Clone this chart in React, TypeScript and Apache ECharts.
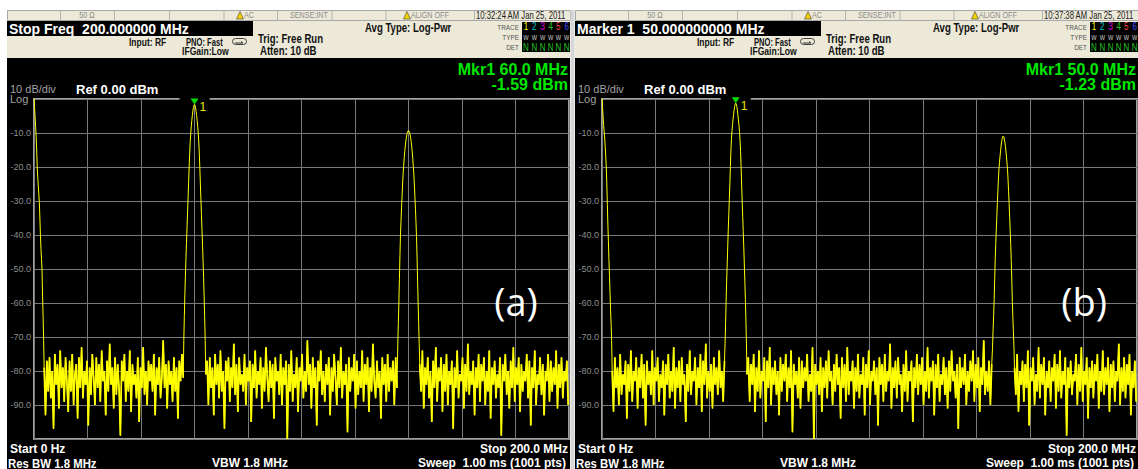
import React, { useEffect, useRef } from "react";
import * as echarts from "echarts";

// ---------------- data ----------------
const SWEEP_STEP = 0.2; // MHz between trace points (1001 pts / 200 MHz)
const NOISE_STEP = 0.5; // MHz between read noise-floor samples

const freqTicks = [0, 20, 40, 60, 80, 100, 120, 140, 160, 180, 200];
const levelTicks = [0, -10, -20, -30, -40, -50, -60, -70, -80, -90, -100];

const panelTitles = ["Stop Freq  200.000000 MHz", "Marker 1  50.000000000 MHz"];
const panelTimes = ["10:32:24 AM Jan 25, 2011", "10:37:38 AM Jan 25, 2011"];
const panelLetters = ["(a)", "(b)"];
const markerFreqs = [60.0, 50.0];
const markerLevels = [-1.59, -1.23];

// ---- panel (a) ----
const loA = [1, -2.5, -5, -8, -11, -15, -20, -23, -25.5, -28, -30.5, -35, -40, -44, -47, -50, -58, -64, -71];
const noiseA1Start = 3.8;
const noiseA1 = [
  -79, -93, -77, -86, -76, -88, -80, -97, -75, -84,
  -78, -91, -74, -85, -79, -89, -76, -83, -92, -77,
  -86, -75, -90, -81, -78, -94, -76, -85, -73, -88,
  -80, -84, -77, -96, -79, -87, -75, -82, -90, -76,
  -85, -78, -89, -74, -83, -80, -93, -77, -86, -72,
  -84, -79, -91, -76, -87, -78, -85, -99, -77, -83,
  -75, -89, -80, -86, -74, -92, -78, -84, -81, -88,
  -76, -95, -79, -85, -73, -87, -80, -90, -77, -83,
  -78, -86, -75, -93, -79, -84, -76, -88, -82, -71,
  -85, -78, -91, -77, -84, -80, -89, -76, -86, -79,
  -94, -77, -83, -75, -82,
];
const peakA1Start = 56.0;
const peakA1 = [
  -71, -64, -57.5, -52, -47, -42.5, -38, -33.5, -29, -24.5,
  -20, -16, -12.5, -10, -8, -6.3, -4.8, -3.5, -2.5, -1.9,
  -1.59,
  -1.9, -2.6, -3.6, -4.9, -6.4, -8.1, -10.1, -12.6, -16.2, -20.5,
  -25, -29.5, -34, -38.5, -43, -47.5, -52.5, -58, -64, -71,
];
const noiseA2Start = 64.2;
const noiseA2 = [
  -81, -77, -90, -76, -85, -79, -93, -75, -84, -78,
  -88, -74, -86, -80, -97, -77, -83, -76, -89, -79,
  -85, -72, -87, -78, -92, -76, -84, -81, -86, -75,
  -90, -79, -83, -77, -95, -78, -85, -74, -88, -80,
  -84, -76, -91, -79, -86, -73, -82, -89, -77, -85,
  -78, -94, -76, -83, -80, -87, -75, -90, -79, -84,
  -77, -100, -78, -86, -74, -89, -81, -85, -76, -92,
  -79, -83, -75, -88, -80, -86, -71, -84, -78, -91,
  -76, -85, -79, -96, -77, -83, -74, -87, -80, -89,
  -78, -84, -76, -93, -79, -86, -75, -82, -90, -77,
  -85, -73, -88, -80, -84, -78, -98, -76, -86, -79,
  -83, -75, -91, -77, -87, -80, -85, -74, -89, -78,
  -84, -76, -92, -79, -86, -72, -83, -88, -77, -85,
  -80, -94, -76, -84, -78, -89, -75, -86, -79, -83,
  -77, -90, -76, -85,
];
const peakA2Start = 136.0;
const peakA2 = [
  -72, -66, -60, -53, -46, -40, -36, -32, -28.5, -25,
  -22, -19.5, -17.3, -15.5, -13.8, -12.4, -11.3, -10.4, -9.8, -9.4,
  -9.3,
  -9.4, -9.8, -10.5, -11.4, -12.5, -13.9, -15.6, -17.5, -19.8, -22.3,
  -25.3, -28.8, -32.3, -36.3, -40.5, -46.5, -53.5, -60, -66, -72,
];
const noiseA3Start = 144.2;
const noiseA3 = [
  -78, -86, -74, -91, -79, -84, -76, -88, -80, -95,
  -77, -85, -73, -89, -79, -83, -76, -92, -78, -86,
  -75, -90, -80, -84, -77, -97, -79, -85, -74, -88,
  -81, -83, -76, -91, -78, -86, -72, -87, -80, -84,
  -77, -93, -79, -85, -75, -89, -78, -83, -76, -90,
  -80, -86, -74, -94, -79, -84, -77, -88, -81, -85,
  -76, -99, -78, -83, -75, -87, -80, -91, -77, -85,
  -73, -89, -79, -84, -76, -92, -78, -86, -80, -83,
  -75, -88, -77, -96, -79, -85, -74, -90, -81, -84,
  -76, -87, -78, -93, -80, -83, -75, -89, -77, -86,
  -79, -84, -74, -91, -78, -85, -76, -88, -80, -83,
  -77, -90,
];

// ---- panel (b) ----
const loB = [1, -2.5, -5, -7.5, -9.5, -11.5, -14, -17, -20, -25, -31, -37, -42, -47.5, -52, -57, -62, -66, -71];
const noiseB1Start = 3.8;
const noiseB1 = [
  -80, -92, -76, -85, -79, -90, -75, -87, -81, -84,
  -77, -94, -78, -86, -74, -89, -80, -83, -76, -91,
  -79, -85, -75, -88, -78, -96, -77, -84, -80, -87,
  -74, -90, -79, -83, -76, -89, -81, -85, -77, -93,
  -78, -84, -75, -88, -80, -86, -73, -91, -79, -85,
  -77, -89, -76, -84, -81, -95, -78, -86, -74, -87,
  -80, -83, -76, -90, -79, -85, -75, -92, -77, -84,
  -72, -88, -80, -86, -78, -91, -76, -84, -79, -87,
  -74, -85, -80, -89, -77,
];
const peakB1Start = 46.0;
const peakB1 = [
  -72, -66, -59.5, -53.5, -48.5, -43.5, -38.5, -34, -29.5, -24.8,
  -19.8, -15.2, -11.6, -9.3, -7.5, -5.9, -4.5, -3.2, -2.2, -1.5,
  -1.23,
  -1.5, -2.2, -3.3, -4.6, -6.1, -7.7, -9.5, -12, -15.4, -20,
  -25, -30, -34.5, -39, -43.5, -48.5, -53.5, -59, -65, -72,
];
const noiseB2Start = 54.2;
const noiseB2 = [
  -81, -76, -89, -78, -84, -75, -92, -79, -86, -74,
  -88, -80, -83, -76, -95, -77, -85, -73, -90, -79,
  -84, -77, -87, -80, -93, -76, -86, -78, -83, -75,
  -89, -79, -85, -74, -98, -78, -84, -80, -88, -76,
  -91, -77, -85, -79, -83, -75, -89, -81, -86, -73,
  -100, -78, -84, -80, -87, -76, -92, -79, -85, -77,
  -88, -74, -83, -80, -90, -78, -86, -75, -84, -79,
  -94, -76, -85, -78, -89, -73, -87, -80, -83, -77,
  -91, -79, -86, -75, -88, -81, -84, -76, -93, -78,
  -85, -74, -90, -80, -83, -77, -87, -79, -96, -76,
  -84, -78, -89, -75, -86, -80, -83, -72, -91, -79,
  -85, -77, -88, -76, -84, -81, -92, -78, -86, -74,
  -89, -80, -83, -77, -95, -79, -85, -75, -87, -78,
  -84, -76, -90, -80, -86, -73, -88, -79, -83, -77,
  -93, -78, -85, -75, -89, -81, -84, -76, -87, -79,
  -91, -77, -86, -74, -83, -80, -88, -78, -97, -76,
  -85, -79, -84, -75, -90, -80, -86, -77, -83, -74,
  -89, -78, -85, -76, -92, -79, -84, -71, -87, -80,
  -86, -77, -90, -78,
];
const peakB2Start = 146.0;
const peakB2 = [
  -73, -68, -64, -59, -53, -47, -42.5, -38.5, -34.5, -30.5,
  -27, -23.5, -20.5, -18.6, -16.8, -15.2, -13.8, -12.6, -11.7, -11.1,
  -10.9,
  -11.1, -11.8, -12.7, -13.9, -15.3, -16.9, -18.8, -20.8, -23.8, -27.3,
  -30.8, -34.8, -38.8, -42.8, -47.5, -53.5, -59.5, -64.5, -68.5, -73,
];
const noiseB3Start = 154.2;
const noiseB3 = [
  -79, -87, -75, -92, -80, -84, -77, -89, -78, -85,
  -74, -96, -79, -83, -76, -90, -81, -86, -73, -88,
  -78, -84, -76, -93, -80, -85, -77, -89, -79, -83,
  -75, -91, -78, -86, -74, -88, -80, -84, -76, -99,
  -79, -85, -77, -87, -81, -83, -75, -90, -78, -86,
  -73, -89, -80, -84, -76, -94, -79, -85, -77, -88,
  -78, -83, -75, -91, -80, -86, -74, -87, -79, -84,
  -76, -92, -78, -85, -77, -89, -80, -83, -72, -90,
  -79, -86, -76, -88, -78, -84, -75, -93, -80, -85,
  -77, -89,
];

// sweep points -> [frequency MHz, level dBm]
const seg = (start: number, step: number, vals: number[]) =>
  vals.map((v, i) => [Math.round((start + i * step) * 100) / 100, v]);
const GAP = [null, null];

const noiseSegsA = [
  seg(noiseA1Start, NOISE_STEP, noiseA1),
  seg(noiseA2Start, NOISE_STEP, noiseA2),
  seg(noiseA3Start, NOISE_STEP, noiseA3),
];
const noiseSegsB = [
  seg(noiseB1Start, NOISE_STEP, noiseB1),
  seg(noiseB2Start, NOISE_STEP, noiseB2),
  seg(noiseB3Start, NOISE_STEP, noiseB3),
];
const traceA = [
  ...seg(0, SWEEP_STEP, loA),
  ...noiseSegsA[0],
  ...seg(peakA1Start, SWEEP_STEP, peakA1),
  ...noiseSegsA[1],
  ...seg(peakA2Start, SWEEP_STEP, peakA2),
  ...noiseSegsA[2],
];
const traceB = [
  ...seg(0, SWEEP_STEP, loB),
  ...noiseSegsB[0],
  ...seg(peakB1Start, SWEEP_STEP, peakB1),
  ...noiseSegsB[1],
  ...seg(peakB2Start, SWEEP_STEP, peakB2),
  ...noiseSegsB[2],
];
const joinSegs = (segs: any[][]) => segs.reduce((acc: any[], s, i) => (i ? [...acc, GAP, ...s] : [...s]), []);
const traces = [traceA, traceB];
const noiseTraces = [joinSegs(noiseSegsA), joinSegs(noiseSegsB)];

// ---------------- styling helpers ----------------
const F = "'Liberation Sans', Arial, sans-serif";
const PANEL_DX = 568;

type TOpt = { align?: string; weight?: string; family?: string; z?: number; sx?: number };
const T = (x: number, y: number, text: string, size: number, color: string, o: TOpt = {}) => ({
  type: "text",
  x,
  y,
  scaleX: o.sx ?? 1,
  z: o.z ?? 50,
  silent: true,
  style: {
    text,
    fill: color,
    fontSize: size,
    fontFamily: o.family || F,
    fontWeight: o.weight || "normal",
    align: o.align || "left",
    textAlign: o.align || "left",
    verticalAlign: "middle",
    textVerticalAlign: "middle",
  },
});
const R = (x: number, y: number, w: number, h: number, fill: string, z = -5, stroke?: string, r = 0) => ({
  type: "rect",
  z,
  silent: true,
  shape: { x, y, width: w, height: h, r },
  style: { fill, stroke: stroke || "none", lineWidth: 1 },
});
const L = (x1: number, y1: number, x2: number, y2: number, stroke: string, lw = 1, z = 5) => ({
  type: "line",
  z,
  silent: true,
  shape: { x1, y1, x2, y2 },
  style: { stroke, lineWidth: lw },
});
const warn = (x: number) => ({
  type: "polygon",
  z: 10,
  silent: true,
  shape: { points: [[x, 19], [x + 3.5, 11.5], [x + 7, 19]] },
  style: { fill: "#f2d200", stroke: "#404040", lineWidth: 0.6 },
});

const traceDigitColors = ["#ffff00", "#00c8d0", "#e000e0", "#20c020", "#ff4040", "#5050ff"];
const traceDigitX = [526, 534.3, 542.7, 550.7, 558.3, 566.7];
const NAR = 0.8;

function panelGraphics(p: number) {
  const ox = p * PANEL_DX;
  const els: any[] = [];
  // header background
  els.push(R(ox + 7, 10, 563, 48, "#ece9d8", -5));
  // status bar
  els.push(R(ox + 7.5, 10.5, 563, 10, "#ece9d8", -4, "#a8a8a8"));
  [60.5, 114.5, 169.5, 224, 277.5, 332, 386, 474.5].forEach((dx) =>
    els.push(L(ox + dx, 10.5, ox + dx, 20.5, "#b4b4b4", 1, 6))
  );
  els.push(T(ox + 87, 15.5, "50 Ω", 9, "#8c8c8c", { align: "center", sx: NAR }));
  els.push(warn(ox + 236.5));
  els.push(T(ox + 244, 15.5, "AC", 9, "#8c8c8c", { sx: NAR }));
  els.push(T(ox + 290, 15.5, "SENSE:INT", 9, "#8c8c8c", { sx: NAR }));
  els.push(warn(ox + 403.5));
  els.push(T(ox + 411, 15.5, "ALIGN OFF", 9, "#8c8c8c", { sx: NAR }));
  els.push(T(ox + 476, 15.5, panelTimes[p], 10, "#222", { sx: 0.77 }));
  // title box
  els.push(R(ox + 7, 21, 246, 15, "#000", -3));
  els.push(T(ox + 9, 28.8, panelTitles[p], 14, "#fff", { weight: "bold" }));
  // settings
  els.push(T(ox + 129, 42.5, "Input: RF", 10, "#111", { weight: "bold", sx: 0.85 }));
  els.push(T(ox + 186, 42.5, "PNO: Fast", 10, "#111", { weight: "bold", sx: 0.76 }));
  els.push(T(ox + 182, 52, "IFGain:Low", 10, "#111", { weight: "bold", sx: 0.86 }));
  els.push(R(ox + 232.5, 38.5, 14, 6, "none", 6, "#404040", 3));
  els.push({
    type: "polyline",
    z: 7,
    silent: true,
    shape: { points: [[ox + 235, 43], [ox + 243, 43], [ox + 241, 41.5]] },
    style: { stroke: "#303030", lineWidth: 1, fill: "none" },
  });
  els.push(T(ox + 258, 38.5, "Trig: Free Run", 12, "#111", { weight: "bold", sx: NAR }));
  els.push(T(ox + 260, 50.5, "Atten: 10 dB", 12, "#111", { weight: "bold", sx: NAR }));
  els.push(T(ox + 365, 27.5, "Avg Type: Log-Pwr", 12, "#111", { weight: "bold", sx: NAR }));
  els.push(T(ox + 519, 27, "TRACE", 8, "#555", { align: "right", sx: NAR }));
  els.push(T(ox + 519, 37, "TYPE", 8, "#555", { align: "right", sx: NAR }));
  els.push(T(ox + 519, 47.5, "DET", 8, "#555", { align: "right", sx: NAR }));
  els.push(R(ox + 522, 22, 48, 30, "#000", -3));
  traceDigitX.forEach((dx, i) => {
    els.push(T(ox + dx, 27, String(i + 1), 10, traceDigitColors[i], { align: "center", sx: NAR }));
    els.push(T(ox + dx, 37, "W", 7, "#d8d8d8", { align: "center", sx: NAR }));
    els.push(T(ox + dx, 47.5, "N", 10, "#20c020", { align: "center", sx: NAR }));
  });
  // black display area
  els.push(R(ox + 7, 58, 563, 411, "#000", -5));
  // marker readout
  els.push(T(ox + 568, 69.5, `Mkr1 ${markerFreqs[p].toFixed(1)} MHz`, 16, "#00e600", { align: "right", weight: "bold" }));
  els.push(T(ox + 568, 84.5, `${markerLevels[p].toFixed(2)} dBm`, 16, "#00e600", { align: "right", weight: "bold" }));
  // scale info
  els.push(T(ox + 10, 89, "10 dB/div", 11, "#a0a0a0"));
  els.push(T(ox + 10, 99, "Log", 11, "#a0a0a0"));
  els.push(T(ox + 76, 89, "Ref 0.00 dBm", 13, "#fff", { weight: "bold" }));
  // footer
  els.push(T(ox + 10, 449, "Start 0 Hz", 12, "#fff", { weight: "bold" }));
  els.push(T(ox + 568, 449, "Stop 200.0 MHz", 12, "#fff", { weight: "bold", align: "right" }));
  els.push(T(ox + 8, 463, "Res BW 1.8 MHz", 12, "#fff", { weight: "bold", sx: 0.95 }));
  els.push(T(ox + 212, 463, "VBW 1.8 MHz", 12, "#fff", { weight: "bold" }));
  els.push(T(ox + 566, 463, "Sweep  1.00 ms (1001 pts)", 12, "#fff", { weight: "bold", align: "right" }));
  // panel letter
  els.push(T(ox + 516, 301, panelLetters[p], 38, "#ffffff", { align: "center", family: "'Open Sans', 'Noto Sans', sans-serif" }));
  return els;
}

export default function App() {
  const ref = useRef<HTMLDivElement>(null);
  useEffect(() => {
    if (!ref.current) return;
    const chart = echarts.init(ref.current, undefined, { renderer: "svg" });
    const gridLeft = [34, 34 + PANEL_DX];
    const option: any = {
      animation: false,
      backgroundColor: "#ffffff",
      grid: gridLeft.map((left) => ({
        left,
        top: 99,
        width: 535,
        height: 340,
        show: true,
        backgroundColor: "transparent",
        borderColor: "#a0a0a0",
        borderWidth: 2,
        z: 0,
      })),
      xAxis: [0, 1].map((g) => ({
        gridIndex: g,
        type: "value",
        min: freqTicks[0],
        max: freqTicks[freqTicks.length - 1],
        interval: freqTicks[1] - freqTicks[0],
        axisLine: { show: false },
        axisTick: { show: false },
        axisLabel: { show: false },
        splitLine: { show: true, lineStyle: { color: "#7a7a7a", width: 1 } },
      })),
      yAxis: [0, 1].map((g) => ({
        gridIndex: g,
        type: "value",
        min: levelTicks[levelTicks.length - 1],
        max: levelTicks[0],
        interval: levelTicks[0] - levelTicks[1],
        axisLine: { show: false },
        axisTick: { show: false },
        axisLabel: {
          show: true,
          margin: 3,
          color: "#8e8e8e",
          fontSize: 9,
          fontFamily: F,
          formatter: (v: number) => (v === 0 || v === -100 ? "" : v.toFixed(1)),
        },
        splitLine: { show: true, lineStyle: { color: "#7a7a7a", width: 1 } },
      })),
      graphic: { elements: [...panelGraphics(0), ...panelGraphics(1), R(570.5, 10, 4, 459, "#d6d6d6", 60)] },
      series: [
        ...[0, 1].map((g) => ({
          type: "line",
          xAxisIndex: g,
          yAxisIndex: g,
          data: traces[g],
          symbol: "none",
          showSymbol: false,
          clip: true,
          silent: true,
          z: 3,
          lineStyle: { color: "#ffff00", width: 1 },
          markPoint: {
            silent: true,
            animation: false,
            data: [
              {
                coord: [markerFreqs[g], 0],
                symbol: "rect",
                symbolSize: [30, 4],
                itemStyle: { color: "#000000" },
                label: { show: false },
              },
              {
                coord: [markerFreqs[g], markerLevels[g]],
                symbol: "triangle",
                symbolRotate: 180,
                symbolSize: [8, 6],
                symbolOffset: [0, -3],
                itemStyle: { color: "#00e000" },
                label: {
                  show: true,
                  formatter: "1",
                  position: "right",
                  distance: 1,
                  offset: [0, 6],
                  color: "#e6e600",
                  fontSize: 12,
                  fontFamily: F,
                },
              },
            ],
          },
        })),
        ...[0, 1].map((g) => ({
          type: "line",
          xAxisIndex: g,
          yAxisIndex: g,
          data: noiseTraces[g],
          symbol: "none",
          showSymbol: false,
          connectNulls: false,
          clip: true,
          silent: true,
          z: 3,
          lineStyle: { color: "#ffff00", width: 1.7 },
        })),
      ],
    };
    chart.setOption(option);
    return () => chart.dispose();
  }, []);
  return (
    <div
      ref={ref}
      style={{ position: "absolute", left: 0, top: 0, width: 1138, height: 469 }}
    />
  );
}
